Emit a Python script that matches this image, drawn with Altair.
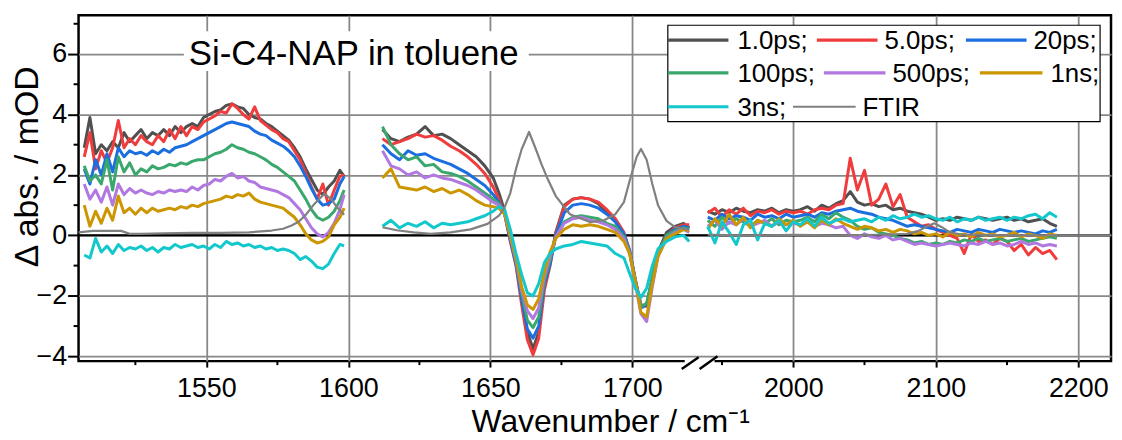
import altair as alt
import pandas as pd

FONT = "Liberation Sans"
SERIES = ["1.0ps;", "5.0ps;", "20ps;", "100ps;", "500ps;", "1ns;", "3ns;", "FTIR"]
COLORS = ["#505050", "#f03c3c", "#1a6ee0", "#3aa86c", "#b078e0", "#cc9600", "#12c8cc", "#808080"]

X_MAJOR = [1550, 1600, 1650, 1700, 2000, 2100, 2200]
X_MINOR = [1525, 1575, 1625, 1675, 1950, 2050, 2150]
Y_MAJOR = [-4, -2, 0, 2, 4, 6]
Y_MINOR = [-3, -1, 1, 3, 5, 7]

# ---------------- segment 1 (1507-1598) ----------------
W1 = [1507, 1509, 1511, 1513, 1515, 1517, 1519, 1521, 1523, 1525, 1527, 1529, 1531, 1533, 1535,
      1537, 1539, 1541, 1543, 1545, 1547, 1549, 1551, 1553, 1555, 1557, 1559, 1561, 1563, 1565,
      1567, 1569, 1571, 1573, 1575, 1577, 1579, 1581, 1583, 1585, 1587, 1589, 1591, 1593, 1595,
      1597, 1598.5]
S1 = {
    "1.0ps;": [2.9, 3.9, 2.7, 3.0, 2.8, 3.1, 2.9, 3.4, 3.1, 3.3, 3.5, 3.2, 3.4, 3.3, 3.5, 3.3, 3.6, 3.4, 3.6, 3.7,
               3.6, 3.9, 4.0, 4.1, 4.15, 4.3, 4.35, 4.25, 4.2, 4.0, 3.9, 3.85, 3.7, 3.6, 3.45, 3.3, 3.15, 2.9, 2.6, 2.2,
               1.85, 1.5, 1.35, 1.6, 1.8, 2.15, 1.95],
    "5.0ps;": [2.6, 3.4, 2.2, 2.8, 2.4, 2.9, 3.8, 2.9, 3.2, 3.0, 3.3, 3.1, 3.0, 3.3, 3.1, 3.5, 3.2, 3.6, 3.3, 3.6,
               3.5, 3.75, 3.85, 3.95, 4.1, 4.05, 4.35, 4.2, 4.0, 3.85, 4.25, 3.8, 3.65, 3.5, 3.4, 3.2, 3.1, 2.8, 2.5, 2.05,
               1.6, 1.2, 1.7, 1.0, 1.5, 1.95, 2.0],
    "20ps;": [2.2, 1.7, 2.5, 2.0, 2.7, 2.1, 2.9, 2.6, 2.8, 2.7, 2.75, 2.65, 2.8, 2.7, 2.85, 2.75, 2.9, 2.95, 3.0, 3.1,
              3.2, 3.3, 3.4, 3.5, 3.6, 3.7, 3.75, 3.7, 3.65, 3.6, 3.45, 3.35, 3.3, 3.15, 3.05, 2.95, 2.8, 2.6, 2.3, 1.95,
              1.55, 1.2, 1.0, 1.05, 1.2, 1.7, 1.95],
    "100ps;": [2.3, 1.8, 2.0, 1.7, 2.5, 1.5, 2.6, 2.1, 2.4, 2.0, 2.2, 2.1, 2.3, 2.2, 2.25, 2.35, 2.3, 2.4, 2.35, 2.45,
               2.5, 2.5, 2.6, 2.7, 2.75, 2.85, 3.0, 2.9, 2.85, 2.75, 2.7, 2.6, 2.5, 2.35, 2.25, 2.1, 1.95, 1.8, 1.5, 1.2,
               0.85, 0.6, 0.5, 0.6, 0.8, 1.15, 1.5],
    "500ps;": [1.7, 1.2, 1.5, 1.1, 1.6, 1.0, 1.7, 1.35, 1.55, 1.4, 1.5, 1.4, 1.35, 1.45, 1.4, 1.5, 1.45, 1.5, 1.45, 1.6,
               1.5, 1.65, 1.7, 1.85, 1.8, 1.95, 2.05, 1.9, 1.95, 1.8, 1.75, 1.6, 1.55, 1.5, 1.45, 1.35, 1.25, 1.05, 0.85, 0.55,
               0.25, 0.05, -0.05, 0.1, 0.4, 0.85, 1.35],
    "1ns;": [1.0, 0.3, 0.8, 0.4, 0.9, 0.5, 1.3, 0.75, 0.9, 0.7, 0.9, 0.75, 0.9, 0.8, 0.85, 0.9, 0.85, 0.95, 0.9, 1.0,
             0.95, 1.05, 1.1, 1.15, 1.2, 1.3, 1.25, 1.35, 1.3, 1.4, 1.2, 1.1, 1.05, 1.0, 0.95, 0.9, 0.75, 0.6, 0.35, 0.05,
             -0.15, -0.25, -0.2, -0.05, 0.35, 0.6, 0.9],
    "3ns;": [-0.65, -0.75, -0.1, -0.55, -0.35, -0.6, -0.3, -0.5, -0.4, -0.45, -0.35, -0.5, -0.4, -0.55, -0.4, -0.45,
             -0.3, -0.4, -0.35, -0.3, -0.4, -0.35, -0.45, -0.3, -0.4, -0.2, -0.3, -0.25, -0.35, -0.3, -0.4, -0.35,
             -0.45, -0.4, -0.5, -0.45, -0.5, -0.6, -0.8, -0.7, -0.85, -1.05, -1.1, -0.95, -0.6, -0.3, -0.35],
}
FTIR1_W = [1505, 1510, 1515, 1520, 1523, 1527, 1535, 1545, 1555, 1565, 1573, 1577, 1580, 1582.5, 1585, 1588,
           1591.5, 1594, 1596, 1598.5]
FTIR1_V = [0.1, 0.15, 0.15, 0.15, 0.05, 0.05, 0.07, 0.08, 0.08, 0.1, 0.16, 0.22, 0.33, 0.45, 0.68, 1.04,
           1.37, 1.2, 0.93, 0.68]

# ---------------- segment 2 (1612-1720) ----------------
W2 = [1612, 1615, 1618, 1621, 1624, 1627, 1630, 1633, 1636, 1639, 1642, 1645, 1648, 1651, 1653, 1655, 1657,
      1659, 1661, 1663, 1665, 1667, 1669, 1671, 1673, 1676, 1679, 1682, 1685, 1688, 1691, 1694, 1697, 1699,
      1701, 1703, 1705, 1707, 1709, 1712, 1715, 1718, 1720]
S2 = {
    "1.0ps;": [3.5, 3.2, 3.1, 3.25, 3.35, 3.6, 3.3, 3.35, 3.2, 3.0, 2.8, 2.6, 2.3, 1.9,
               1.4, 0.8, -0.05, -0.85, -2.1, -3.2, -3.75, -3.2, -1.6, -0.9, 0.1,
               1.0, 1.2, 1.25, 1.2, 1.05, 0.75, 0.45, 0.0,
               -0.55, -1.5, -2.35, -2.3, -1.4, -0.55, 0.1, 0.3, 0.4, 0.25],
    "5.0ps;": [3.2, 3.0, 3.1, 3.2, 3.35, 3.25, 3.3, 3.15, 2.95, 2.8, 2.6, 2.35, 2.05, 1.6,
               1.2, 0.7, -0.2, -1.0, -2.3, -3.45, -3.95, -3.4, -1.8, -1.0, 0.05,
               0.95, 1.2, 1.25, 1.2, 1.1, 0.85, 0.55, 0.1,
               -0.5, -1.45, -2.3, -2.35, -1.5, -0.6, 0.0, 0.25, 0.35, 0.35],
    "20ps;": [3.0, 2.7, 2.5, 2.8, 2.65, 2.7, 2.55, 2.45, 2.35, 2.2, 2.05, 1.85, 1.65, 1.35,
              1.1, 0.7, -0.15, -0.95, -2.1, -3.1, -3.4, -3.0, -1.6, -0.95, 0.0,
              0.75, 1.0, 1.05, 1.0, 0.9, 0.7, 0.45, 0.05,
              -0.5, -1.45, -2.4, -2.3, -1.45, -0.6, 0.0, 0.2, 0.3, 0.25],
    "100ps;": [3.6, 3.0, 2.7, 2.5, 2.6, 2.3, 2.35, 2.1, 2.05, 1.95, 1.8, 1.6, 1.4, 1.2,
               1.05, 0.75, -0.05, -0.85, -1.9, -2.8, -3.05, -2.7, -1.5, -0.8, -0.05,
               0.45, 0.6, 0.65, 0.6, 0.55, 0.4, 0.3, -0.05,
               -0.55, -1.5, -2.35, -2.25, -1.4, -0.6, 0.0, 0.15, 0.25, 0.2],
    "500ps;": [2.8, 2.3, 2.2, 2.0, 2.1, 1.9, 2.0, 1.9, 1.85, 1.75, 1.65, 1.5, 1.3, 1.1,
               1.0, 0.75, -0.05, -0.8, -1.8, -2.5, -2.75, -2.4, -1.35, -0.7, -0.05,
               0.4, 0.55, 0.6, 0.5, 0.45, 0.35, 0.2, -0.1,
               -0.6, -1.6, -2.6, -2.85, -1.7, -0.7, -0.1, 0.1, 0.2, 0.1],
    "1ns;": [1.9, 2.2, 1.6, 1.55, 1.5, 1.6, 1.45, 1.55, 1.4, 1.5, 1.35, 1.15, 1.0, 0.95,
             0.9, 0.7, 0.0, -0.75, -1.7, -2.3, -2.45, -2.1, -1.2, -0.55, -0.1,
             0.2, 0.35, 0.3, 0.35, 0.3, 0.2, 0.1, -0.2,
             -0.6, -1.5, -2.55, -2.7, -1.6, -0.7, -0.1, 0.05, 0.2, 0.15],
    "3ns;": [0.3, 0.5, 0.25, 0.4, 0.3, 0.45, 0.25, 0.4, 0.35, 0.4, 0.45, 0.55, 0.65, 0.8,
             0.95, 0.85, 0.2, -0.6, -1.3, -1.9, -2.0, -1.6, -0.9, -0.6, -0.45,
             -0.35, -0.3, -0.2, -0.25, -0.3, -0.35, -0.6, -0.75,
             -1.25, -1.75, -2.05, -1.75, -1.0, -0.45, -0.2, -0.05, 0.0, -0.2],
}
FTIR2_W = [1612, 1617, 1623, 1629, 1636, 1643, 1649, 1653, 1655, 1657, 1659, 1661, 1663.6, 1666, 1668, 1670,
           1673, 1678, 1685, 1690, 1694, 1697, 1699, 1701.5, 1703, 1705, 1707, 1709, 1712, 1715, 1720]
FTIR2_V = [0.27, 0.17, 0.1, 0.05, 0.1, 0.2, 0.38, 0.65, 0.93, 1.4, 2.2, 2.85, 3.42, 2.85, 2.35, 1.9,
           1.3, 0.7, 0.44, 0.5, 0.7, 1.1, 1.8, 2.6, 2.86, 2.5, 1.7, 1.0, 0.48, 0.27, 0.19]

# ---------------- segment 3 (1940-2185) ----------------
W3 = [1940, 1945, 1950, 1955, 1960, 1965, 1970, 1975, 1980, 1985, 1990, 1995, 2000, 2005, 2010, 2015, 2020,
      2025, 2030, 2035, 2040, 2045, 2050, 2055, 2060, 2065, 2070, 2075, 2080, 2085, 2090, 2095, 2100, 2105,
      2110, 2115, 2120, 2125, 2130, 2135, 2140, 2145, 2150, 2155, 2160, 2165, 2170, 2175, 2180, 2185]
S3 = {
    "1.0ps;": [0.8, 0.7, 0.85, 0.75, 0.9, 0.8, 0.75, 0.85, 0.8, 0.9, 0.75, 0.85, 0.8,
               0.85, 0.95, 0.8, 1.0, 0.9, 1.05, 1.15, 1.45,
               1.1, 1.0, 1.05, 0.95, 1.0, 0.85, 0.9, 0.8, 0.75, 0.7, 0.6,
               0.5, 0.55, 0.5, 0.6, 0.55, 0.5, 0.6, 0.55, 0.5, 0.55, 0.6, 0.5, 0.55, 0.45, 0.5, 0.55, 0.4, 0.3],
    "5.0ps;": [0.75, 0.9, 0.6, 0.85, 0.7, 0.9, 0.65, 0.8, 0.75, 0.85, 0.7, 0.8, 0.75,
               0.8, 0.7, 0.85, 0.9, 0.85, 1.0, 1.05,
               2.55, 1.5, 2.15, 1.0, 1.2, 1.7, 0.95, 1.35, 0.6, 0.45, 0.3, 0.35,
               0.2, 0.1, 0.0, -0.1, -0.6, 0.05, -0.2, -0.15, -0.3, -0.1, -0.2, -0.5, -0.3, -0.65, -0.4, -0.6, -0.5, -0.8],
    "20ps;": [0.6, 0.5, 0.7, 0.55, 0.65, 0.6, 0.5, 0.7, 0.6, 0.65, 0.55, 0.7, 0.6,
              0.65, 0.7, 0.6, 0.75, 0.7, 0.8, 0.85,
              0.9, 0.8, 0.75, 0.7, 0.6, 0.55, 0.5, 0.4, 0.3, 0.35, 0.3, 0.25,
              0.2, 0.15, 0.1, 0.2, 0.15, 0.1, 0.2, 0.15, 0.1, 0.2, 0.15, 0.1, 0.15, 0.1, 0.05, 0.15, 0.1, 0.2],
    "100ps;": [0.5, 0.3, 0.6, 0.4, 0.55, 0.45, 0.3, 0.5, 0.4, 0.55, 0.35, 0.5, 0.45,
               0.5, 0.6, 0.45, 0.7, 0.55, 0.75, 0.6,
               0.5, 0.3, 0.2, 0.25, 0.1, 0.05, 0.0, -0.1, -0.15, -0.25, -0.2, -0.3,
               -0.25, -0.3, -0.2, -0.25, -0.15, -0.2, -0.1, -0.2, -0.15, -0.1, -0.2, -0.15, -0.1, -0.2, -0.15, -0.1, -0.05, -0.1],
    "500ps;": [0.3, 0.5, 0.2, 0.45, 0.35, 0.55, 0.3, 0.4, 0.5, 0.3, 0.45, 0.35, 0.4,
               0.35, 0.45, 0.3, 0.4, 0.35, 0.25, 0.3,
               0.0, -0.1, 0.05, -0.05, -0.1, 0.0, -0.15, -0.1, -0.2, -0.3, -0.25, -0.3,
               -0.35, -0.3, -0.25, -0.3, -0.35, -0.25, -0.3, -0.2, -0.3, -0.25, -0.35, -0.3, -0.2, -0.3, -0.25, -0.35, -0.3, -0.35],
    "1ns;": [0.2, 0.55, 0.3, 0.7, 0.35, 0.6, 0.25, 0.5, 0.4, 0.3, 0.55, 0.35, 0.5,
             0.3, 0.45, 0.25, 0.5, 0.35, 0.55, 0.4,
             0.3, 0.2, 0.3, 0.25, 0.15, 0.2, 0.1, 0.2, 0.15, 0.05, 0.1, 0.0,
             0.05, -0.05, 0.1, 0.0, 0.05, -0.05, 0.1, 0.0, 0.05, -0.05, 0.0, 0.1, -0.05, 0.05, 0.0, -0.1, 0.05, 0.0],
    "3ns;": [0.3, -0.25, 0.45, 0.1, -0.3, 0.35, 0.5, -0.15, 0.4, 0.3, 0.5, 0.15, 0.45,
             0.35, 0.55, 0.3, 0.6, 0.4, 0.5, 0.55,
             0.45, 0.5, 0.55, 0.45, 0.6, 0.5, 0.65, 0.55, 0.6, 0.7, 0.6, 0.65,
             0.55, 0.5, 0.6, 0.45, 0.55, 0.5, 0.6, 0.5, 0.55, 0.6, 0.5, 0.6, 0.55, 0.65, 0.7, 0.55, 0.75, 0.6],
}
FTIR3_W = [1940, 1970, 2000, 2030, 2060, 2080, 2088, 2094, 2099, 2104, 2110, 2118, 2150, 2223]
FTIR3_V = [0.02, 0.0, 0.02, 0.0, 0.02, 0.05, 0.15, 0.3, 0.4, 0.28, 0.1, 0.03, 0.0, 0.0]

TITLE_TEXT = "Si-C4-NAP in toluene"

# legend layout (pixels inside the plot area), one entry per series, flowing in 3 rows
LEG_LINE_X1 = [593, 743, 893, 593, 750, 907, 593, 719]
LEG_LINE_X2 = [654, 804, 954, 654, 812, 970, 654, 782]
LEG_ROW_Y = [25, 25, 25, 58, 58, 58, 92, 92]
LEG_TEXT_X = [663, 811, 961, 663, 819, 978, 663, 789]

# ---------------- build long table ----------------
rows = []


def add(name, seg, wns, vals):
    assert len(wns) == len(vals), (name, seg, len(wns), len(vals))
    for w, v in zip(wns, vals):
        rows.append({"series": name, "seg": f"{name}|{seg}", "wn": w, "val": v})


for name in SERIES[:-1]:
    add(name, 1, W1, S1[name])
    add(name, 2, W2, S2[name])
    add(name, 3, W3, S3[name])
add("FTIR", 1, FTIR1_W, FTIR1_V)
add("FTIR", 2, FTIR2_W, FTIR2_V)
add("FTIR", 3, FTIR3_W, FTIR3_V)
df = pd.DataFrame(rows)

leg_df = pd.DataFrame({"series": SERIES, "x1": LEG_LINE_X1, "x2": LEG_LINE_X2, "y": LEG_ROW_Y, "tx": LEG_TEXT_X})

# ---------------- scales / axes ----------------
XS = alt.Scale(domain=[1505, 1724, 1935, 2223], range=[0, 626, 626, 1039], nice=False, zero=False)
YS = alt.Scale(domain=[-4.16, 7.28], nice=False, zero=False)

XAX = alt.Axis(values=X_MAJOR, format="d", title="Wavenumber / cm⁻¹", tickSize=6, labelPadding=9,
               labelFontSize=27, titleFontSize=32, titleX=535, titleY=71, titleBaseline="alphabetic",
               titleAnchor="middle", titleAlign="center")
YAX = alt.Axis(values=Y_MAJOR, format="d", title="Δ abs. / mOD", tickSize=11, labelPadding=1,
               labelFontSize=27, titleFontSize=34, titleX=-41, titleY=152, titleBaseline="alphabetic",
               titleAngle=270, titleAlign="center")


def X():
    return alt.X("wn:Q", scale=XS, axis=XAX)


def Y():
    return alt.Y("val:Q", scale=YS, axis=YAX)


COLOR = alt.Color("series:N", scale=alt.Scale(domain=SERIES, range=COLORS), legend=None)

layers = []
layers.append(alt.Chart(pd.DataFrame({"val": [0.0]})).mark_rule(color="black", strokeWidth=2.5).encode(y=Y()))

for name in SERIES:
    sw = 2.2 if name == "FTIR" else 3.0
    layers.append(
        alt.Chart(df).transform_filter(alt.datum.series == name)
        .mark_line(strokeWidth=sw, strokeJoin="round")
        .encode(x=X(), y=Y(), color=COLOR, detail="seg:N")
    )

# minor ticks
layers.append(alt.Chart(pd.DataFrame({"wn": X_MINOR})).mark_rule(color="black", strokeWidth=2)
              .encode(x=X(), y=alt.value(348), y2=alt.value(352)))
layers.append(alt.Chart(pd.DataFrame({"val": Y_MINOR})).mark_rule(color="black", strokeWidth=2)
              .encode(y=Y(), x=alt.value(0), x2=alt.value(-5)))

# in-plot title with white box
ann = alt.Chart(pd.DataFrame({"t": [TITLE_TEXT]}))
layers.append(ann.mark_rect(color="white").encode(x=alt.value(106), x2=alt.value(453),
                                                  y=alt.value(16), y2=alt.value(56)))
layers.append(ann.mark_text(align="left", baseline="alphabetic", fontSize=35, font=FONT, color="black")
              .encode(text="t:N", x=alt.value(111), y=alt.value(50)))

# legend box and entries
legbox = alt.Chart(pd.DataFrame({"a": [0]}))
layers.append(legbox.mark_rect(fill="white", stroke="black", strokeWidth=1.2)
              .encode(x=alt.value(593), x2=alt.value(1028), y=alt.value(10), y2=alt.value(107)))
legc = alt.Chart(leg_df)
layers.append(legc.transform_filter(alt.datum.series != "FTIR").mark_rule(strokeWidth=3.2)
              .encode(x=alt.X("x1:Q", scale=None, axis=None), x2="x2:Q",
                      y=alt.Y("y:Q", scale=None, axis=None), color=COLOR))
layers.append(legc.transform_filter(alt.datum.series == "FTIR").mark_rule(strokeWidth=2.2)
              .encode(x=alt.X("x1:Q", scale=None, axis=None), x2="x2:Q",
                      y=alt.Y("y:Q", scale=None, axis=None), color=COLOR))
layers.append(legc.mark_text(align="left", baseline="middle", fontSize=26, font=FONT, color="black", dy=1)
              .encode(x=alt.X("tx:Q", scale=None, axis=None), y=alt.Y("y:Q", scale=None, axis=None),
                      text="series:N"))

# axis break marks
brk = alt.Chart(pd.DataFrame({"a": [0]}))
layers.append(brk.mark_rect(color="white").encode(x=alt.value(610), x2=alt.value(640),
                                                  y=alt.value(345), y2=alt.value(352)))
layers.append(brk.mark_rule(color="black", strokeWidth=2.5).encode(x=alt.value(607), x2=alt.value(624),
                                                                   y=alt.value(356), y2=alt.value(344)))
layers.append(brk.mark_rule(color="black", strokeWidth=2.5).encode(x=alt.value(625), x2=alt.value(643),
                                                                   y=alt.value(356), y2=alt.value(343)))

chart = (
    alt.layer(*layers)
    .properties(width=1039, height=348,
                padding={"left": 71, "top": 6, "right": 3, "bottom": 78},
                autosize=alt.AutoSizeParams(type="none"))
    .configure_view(stroke="black", strokeWidth=2.5)
    .configure_axis(domain=False, grid=True, gridColor="#888888", gridWidth=1.8, tickColor="black",
                    tickWidth=2, labelFont=FONT, titleFont=FONT, labelColor="black", titleColor="black",
                    titleFontWeight="normal")
)

chart.save("out.html", embed_options={"renderer": "svg", "actions": False})
